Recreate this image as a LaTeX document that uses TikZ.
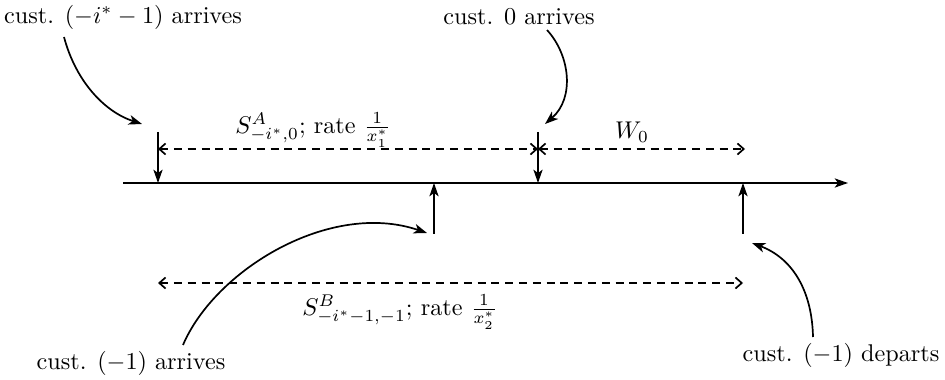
\documentclass[tikz,border=0pt]{standalone}
\usetikzlibrary{arrows.meta}
\begin{document}
\begin{tikzpicture}[x=0.413pt,y=-0.413pt,
  every node/.style={inner sep=0pt,outer sep=0pt,font=\normalsize},
  solid arr/.style={line width=0.7pt,-{Stealth[length=5.5pt,width=3.8pt,inset=1.4pt]}},
  dash arr/.style={line width=0.7pt,dash pattern=on 3.3pt off 2.4pt,
     {Straight Barb[length=2.6pt,width=4.6pt]}-{Straight Barb[length=2.6pt,width=4.6pt]}},
  curve arr/.style={line width=0.7pt,-{Stealth[length=5.5pt,width=4pt,inset=1.5pt]}}]
\useasboundingbox (0,0) rectangle (945,380);
% axis
\coordinate (L) at (123,183);
\coordinate (R) at (848,183);
\draw[solid arr] (L) -- (R);
% ticks
\coordinate (a0) at (158,132); \coordinate (a1) at (158,183);
\coordinate (b0) at (538,132); \coordinate (b1) at (538,183);
\coordinate (c0) at (434,234); \coordinate (c1) at (434,183);
\coordinate (d0) at (743,234); \coordinate (d1) at (743,183);
\draw[solid arr] (a0) -- (a1);
\draw[solid arr] (b0) -- (b1);
\draw[solid arr] (c0) -- (c1);
\draw[solid arr] (d0) -- (d1);
% dashed intervals
\coordinate (sa0) at (158,149); \coordinate (sa1) at (538,149);
\coordinate (w1) at (745,149);
\coordinate (sb0) at (158,283); \coordinate (sb1) at (743,283);
\draw[dash arr] (sa0) -- (sa1);
\draw[dash arr] (sa1) -- (w1);
\draw[dash arr] (sb0) -- (sb1);
% labels
\node (tl) at (123,17) {cust. $(-i^*-1)$ arrives};
\node (tm) at (519,17) {cust. 0 arrives};
\node (sal) at (313,130) {$S^A_{-i^*,0}$; rate $\frac{1}{x_1^*}$};
\node (wl) at (632,132) {$W_0$};
\node (sbl) at (400,312) {$S^B_{-i^*-1,-1}$; rate $\frac{1}{x_2^*}$};
\node (bl) at (131,363) {cust. $(-1)$ arrives};
\node (br) at (841,355) {cust. $(-1)$ departs};
% curved pointers
\coordinate (p1s) at (64,37);   \coordinate (p1e) at (142,124);
\coordinate (p2s) at (547,30);  \coordinate (p2e) at (545,124);
\coordinate (p3s) at (183,345); \coordinate (p3e) at (427,233);
\coordinate (p4s) at (813,337); \coordinate (p4e) at (752,243);
\draw[curve arr] (p1s) .. controls (76,82) and (105,112) .. (p1e);
\draw[curve arr] (p2s) .. controls (570,55) and (575,98) .. (p2e);
\draw[curve arr] (p3s) .. controls (215,270) and (330,200) .. (p3e);
\draw[curve arr] (p4s) .. controls (812,290) and (792,258) .. (p4e);
\end{tikzpicture}
\end{document}
